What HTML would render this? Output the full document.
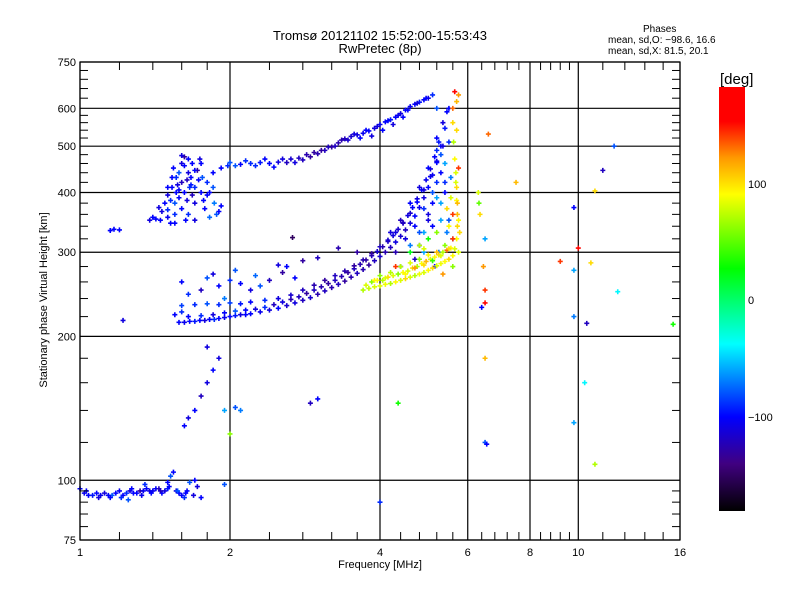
<!DOCTYPE html>
<html><head><meta charset="utf-8"><style>
html,body{margin:0;padding:0;background:#fff}
svg{display:block;font-family:"Liberation Sans",sans-serif}
</style></head><body>
<svg id="chart" width="800" height="600" viewBox="0 0 800 600" xmlns="http://www.w3.org/2000/svg">
<defs>
<linearGradient id="cbar" x1="0" y1="1" x2="0" y2="0">
<stop offset="0" stop-color="#000000"/>
<stop offset="0.111" stop-color="#400080"/>
<stop offset="0.222" stop-color="#0000ff"/>
<stop offset="0.394" stop-color="#00ffff"/>
<stop offset="0.572" stop-color="#00ff00"/>
<stop offset="0.747" stop-color="#ffff00"/>
<stop offset="0.833" stop-color="#ff9900"/>
<stop offset="0.919" stop-color="#ff0000"/>
<stop offset="1" stop-color="#ff0000"/>
</linearGradient>
</defs>
<text x="380" y="40" text-anchor="middle" font-size="13">Tromsø 20121102 15:52:00-15:53:43</text>
<text x="380" y="53" text-anchor="middle" font-size="13">RwPretec (8p)</text>
<g font-size="10">
<text x="643" y="32">Phases</text>
<text x="608" y="43">mean, sd,O: −98.6, 16.6</text>
<text x="608" y="54">mean, sd,X:  81.5, 20.1</text>
</g>
<g id="grid"></g>
<g id="points"></g>
<rect x="80" y="62" width="600" height="478" fill="none" stroke="#000" stroke-width="1.2"/>
<g id="axes" font-size="11"></g>
<text x="380" y="568" text-anchor="middle" font-size="11">Frequency [MHz]</text>
<text transform="translate(47,300) rotate(-90)" text-anchor="middle" font-size="11">Stationary phase Virtual Height [km]</text>
<rect x="719" y="87" width="26" height="424" fill="url(#cbar)"/>
<text x="720" y="84" font-size="15">[deg]</text>
<g font-size="11">
<text x="748" y="188">100</text>
<text x="748" y="304">0</text>
<text x="748" y="421">−100</text>
</g>
</svg>
<script>
const xTicks=[1,2,4,6,8,10,16];
const yTicks=[75,100,200,300,400,500,600,750];
const xMinor=[1.2,1.4,1.6,1.8,2.4,2.8,3.2,3.6,4.4,4.8,5.2,5.6,6.4,6.8,7.2,7.6,8.4,8.8,9.2,9.6,11.2,12.4,13.6,14.8];
const yMinor=[80,85,90,95,120,140,160,180,220,240,260,280,320,340,360,380,420,440,460,480,520,540,560,580,630,660,690,720];

const eF=[1.0,1.02,1.04,1.06,1.08,1.1,1.12,1.14,1.16,1.18,1.2,1.22,1.24,1.26,1.28,1.3,1.32,1.34,1.36,1.38,1.4,1.42,1.44,1.46,1.48,1.5,1.52,1.54,1.56,1.58,1.6,1.62,1.64,1.66,1.7,1.72];
const eH=[96,94,93,93,94,93,94,93,93,94,95,93,94,95,94,94,95,95,96,95,95,96,96,94,95,96,102,104,95,94,93,92,95,99,100,97];
const eP=[-100,-105,-100,-95,-100,-105,-110,-100,-80,-100,-105,-100,-90,-110,-100,-100,-130,-105,-100,-110,-105,-100,-120,-100,-110,-95,-80,-100,-110,-100,-100,-90,-100,-80,-100,-110];
const e2F=[1.03,1.09,1.15,1.21,1.27,1.33,1.39,1.45,1.51,1.57,1.63,1.69,1.75,1.35,1.5,1.25];
const e2H=[95,92,92,92,96,93,94,95,97,95,94,93,92,98,99,91];
const e2P=[-100,-110,-100,-90,-100,-105,-100,-120,-100,-80,-100,-110,-100,-90,-100,-80];

const lowF=[1.58,1.62,1.66,1.7,1.74,1.78,1.82,1.86,1.9,1.95,2.0,2.05,2.1,2.15,2.2,2.3,2.4,2.5,2.6,2.7,2.8,2.9,3.0,3.1,3.2,3.3,3.4,3.5,3.6,3.7,3.8,3.9,4.0,4.1,4.2,4.3,4.4,4.5,4.6,4.7,4.8,4.9,5.0,5.1,5.2,5.3,5.4,5.5];
const lowH=[214,214,215,215,216,216,217,217,218,219,220,221,222,222,223,225,227,229,232,235,238,241,245,249,253,257,261,266,271,276,282,288,294,300,307,315,324,334,345,357,372,390,410,435,465,500,545,600];
const lowP=[-100,-105,-100,-95,-100,-110,-100,-90,-100,-105,-100,-95,-110,-100,-100,-105,-110,-100,-115,-110,-120,-115,-125,-120,-125,-120,-130,-125,-120,-125,-130,-120,-115,-125,-120,-110,-115,-120,-110,-100,-105,-110,-100,-105,-110,-100,-95,-100];
const low2F=[1.65,1.75,1.85,1.95,2.05,2.15,2.25,2.35,2.45,2.55,2.65,2.75,2.85,2.95,3.05,3.15,3.25,3.35,3.45,3.55,3.65,3.75,3.85,3.95,4.05,4.15,4.25,4.35,4.45,4.55,4.65,4.75,4.85,4.95,5.05,5.15,5.25];
const low2H=[220,221,222,224,226,227,228,230,233,236,239,242,246,250,254,258,262,267,272,277,283,289,295,301,308,316,325,335,346,358,372,388,405,425,448,475,510];
const low2P=[-100,-90,-110,-100,-80,-100,-110,-90,-120,-110,-125,-120,-130,-120,-125,-130,-120,-125,-130,-120,-125,-130,-120,-115,-125,-120,-110,-115,-120,-110,-100,-110,-100,-105,-110,-100,-95];

const bandF=[1.6,1.7,1.8,1.9,2.0,2.1,2.2,2.35,2.5,2.65,2.8,2.95,3.1,3.25,3.4,3.55,3.7,3.85,4.0,4.15,4.3,4.45,4.6,4.75,4.9,5.05,5.2,5.35];
const bandH=[232,233,234,233,235,234,236,238,240,244,250,256,262,268,274,281,289,298,308,318,330,345,362,382,405,432,462,500];
const bandP=[-85,-90,-80,-90,-85,-95,-100,-90,-110,-115,-120,-125,-130,-120,-125,-130,-125,-130,-120,-115,-110,-120,-115,-100,-110,-105,-100,-110];

const scatF=[1.6,1.65,1.75,1.8,1.85,1.9,1.95,2.0,2.05,2.1,2.2,2.25,2.4,2.5,2.55,2.7,1.55,1.6,2.3,2.8,3.0,3.3,3.6];
const scatH=[260,245,250,265,270,255,240,262,275,258,250,268,262,282,272,265,222,225,255,288,292,306,300];
const scatP=[-100,-90,-120,-80,-110,-100,-70,-90,-80,-100,-110,-75,-120,-110,-130,-100,-100,-90,-80,-130,-120,-125,-130];

const upF=[1.38,1.42,1.45,1.5,1.52,1.55,1.48,1.5,1.53,1.55,1.58,1.6,1.62,1.65,1.67,1.7,1.72,1.75,1.6,1.65,1.58,1.53,1.7,1.75,1.8,1.85,1.78,1.82,1.88,1.9,1.6,1.65,1.7,1.55,1.63,1.68,1.73,1.5,1.57,1.62,1.67,1.77,1.85,1.92,1.98,1.56,1.64];
const upH=[350,352,350,355,345,360,380,395,410,380,390,420,400,440,430,410,445,460,460,470,440,430,380,400,420,440,370,355,360,365,370,360,350,345,350,395,425,368,415,455,415,385,410,450,455,400,385];
const upP=[-110,-100,-100,-105,-100,-90,-100,-110,-100,-80,-100,-120,-100,-110,-100,-90,-130,-100,-110,-100,-80,-100,-110,-100,-90,-100,-100,-75,-80,-100,-100,-90,-110,-100,-100,-120,-100,-90,-110,-100,-95,-100,-80,-100,-90,-100,-110];
const up2F=[1.4,1.46,1.52,1.58,1.64,1.7,1.76,1.82,1.44,1.5,1.56,1.62,1.68,1.74,1.8,1.86,1.92,1.54,1.6,1.66];
const up2H=[355,365,385,405,425,445,430,400,372,410,430,475,460,470,395,380,375,450,478,410];
const up2P=[-100,-110,-90,-100,-120,-100,-80,-100,-110,-100,-90,-130,-100,-110,-100,-70,-100,-100,-110,-90];

const hopF=[2.0,2.1,2.2,2.3,2.4,2.5,2.6,2.7,2.8,2.9,3.0,3.1,3.2,3.3,3.4,3.5,3.6,3.7,3.8,3.9,4.0,4.1,4.2,4.3,4.4,4.5,4.6,4.7,4.8,4.9,5.0,2.05,2.25,2.45,2.65,2.85,3.05,3.25,3.45,3.65,3.85,4.05,4.25,4.45];
const hopH=[462,458,460,462,460,463,462,462,468,475,482,490,498,508,518,524,528,532,538,545,555,562,568,575,585,595,605,612,618,625,630,455,455,452,470,480,490,500,515,520,525,540,555,575];
const hopP=[-80,-100,-90,-95,-100,-110,-120,-110,-120,-130,-125,-120,-130,-125,-120,-115,-110,-105,-100,-110,-105,-100,-95,-100,-110,-100,-105,-100,-95,-100,-110,-80,-90,-100,-115,-125,-130,-120,-115,-100,-110,-100,-110,-100];
const hop2F=[2.15,2.35,2.55,2.75,2.95,3.15,3.35,3.55,3.75,3.95,4.15,4.35,4.55,4.75,4.95,5.1,5.2];
const hop2H=[466,470,470,472,485,498,515,530,540,550,565,580,595,615,630,640,600];
const hop2P=[-90,-100,-110,-120,-130,-120,-125,-110,-100,-110,-100,-105,-100,-110,-100,-90,-80];

const cuspF=[5.2,5.3,5.35,5.4,5.45,5.5,5.55,5.4,5.3,5.5,5.6,5.45,5.0,5.1,5.2,4.9,4.8,5.25,5.15,4.7];
const cuspH=[520,480,560,460,590,510,430,400,380,350,320,330,350,380,420,330,310,300,280,290];
const cuspP=[-100,-80,-110,-60,-100,-90,-70,-100,-60,-80,-100,-70,-110,-100,-90,-60,-110,-70,-100,-120];
const cusp2F=[4.2,4.4,4.6,4.8,5.0,5.2,4.3,4.5,4.7,4.9,5.1,5.3,4.6,4.8,5.0,5.2,5.4,4.4,4.9,5.1];
const cusp2H=[330,350,380,410,450,490,300,320,340,370,400,440,310,330,360,390,420,280,300,340];
const cusp2P=[-110,-120,-100,-110,-100,-90,-125,-110,-100,-90,-80,-100,-70,-80,-110,-60,-90,-120,-60,-100];

const xF=[3.7,3.8,3.9,4.0,4.1,4.2,4.3,4.4,4.5,4.6,4.7,4.8,4.9,5.0,5.1,5.2,5.3,5.4,5.5,5.6,5.65,5.7,5.72,5.72,5.7,5.7,5.68,5.65,5.62,5.6,5.7,5.75];
const xH=[250,252,254,255,257,258,260,262,264,266,268,270,272,275,278,281,284,287,290,295,305,320,340,360,385,410,440,470,510,560,620,640];
const xP=[70,75,80,80,85,70,90,80,100,80,70,85,80,90,100,80,85,90,100,90,80,90,100,110,90,100,80,90,70,100,110,120];
const x2F=[3.75,3.85,3.95,4.05,4.15,4.25,4.35,4.45,4.55,4.65,4.75,4.85,4.95,5.05,5.15,5.25,5.35,5.45,5.55,5.75,5.78,5.75,5.72,5.68,5.75,5.6,5.65,5.7];
const x2H=[256,260,262,262,266,268,270,272,274,278,280,284,287,290,293,296,300,303,306,300,330,350,380,420,450,600,650,540];
const x2P=[80,60,90,70,100,80,60,90,80,100,70,90,110,80,90,100,70,130,90,80,100,90,110,80,140,130,150,100];

const xsF=[4.0,4.2,4.3,4.5,4.6,4.7,4.8,4.9,5.0,5.1,5.2,5.3,5.4,5.5,5.6,4.4,4.6,4.9,5.2,5.5,5.45,5.55,5.6,5.3,5.0,4.8,5.35,5.6,4.1,3.9];
const xsH=[268,272,280,270,285,278,290,282,296,288,300,295,310,305,320,280,300,305,330,340,370,390,360,350,320,310,270,280,265,262];
const xsP=[60,70,140,90,80,120,60,100,90,40,110,80,60,100,140,70,20,80,60,90,100,80,140,-60,30,70,120,60,80,90];

const strayF=[1.15,1.17,1.2,1.22,1.62,1.65,1.7,1.75,1.8,1.85,1.9,1.95,2.05,2.1,2.0,2.6,2.67,2.9,3.0,4.0,4.35,6.3,6.32,6.35,6.45,6.5,6.5,6.5,6.5,6.5,6.55,6.6,7.5,9.2,9.8,9.8,9.8,9.8,10,10.3,10.4,10.6,10.8,10.8,11.2,12,11.8,15.5,1.8,1.95,6.4];
const strayH=[333,335,334,216,130,135,140,150,160,170,180,140,142,140,125,280,322,145,148,90,145,400,380,360,280,250,235,180,120,320,119,530,420,287,372,275,220,132,306,160,213,285,403,108,445,248,500,212,190,98,230];
const strayP=[-100,-100,-100,-110,-100,-110,-100,-120,-110,-100,-110,-60,-80,-70,60,-100,-150,-120,-100,-90,30,80,50,100,120,140,150,110,-80,-60,-100,130,110,140,-100,-60,-70,-60,150,-40,-120,100,100,70,-120,-40,-80,30,-110,-80,-100];

const NS="http://www.w3.org/2000/svg";
const X0=80,X1=680,Y0=540,Y1=62;
function xs(f){return X0+(X1-X0)*Math.log(f)/Math.log(16);}
function ys(h){return Y0-(Y0-Y1)*Math.log10(h/75);}
const stops=[[-180,[0,0,0]],[-140,[64,0,128]],[-100,[0,0,255]],[-38,[0,255,255]],[26,[0,255,0]],[89,[255,255,0]],[120,[255,153,0]],[151,[255,0,0]],[180,[255,0,0]]];
function color(p){
  p=Math.max(-180,Math.min(180,p));
  for(let i=0;i<stops.length-1;i++){
    const a=stops[i],b=stops[i+1];
    if(p<=b[0]){const t=(p-a[0])/(b[0]-a[0]);
      return 'rgb('+a[1].map((v,k)=>Math.round(v+(b[1][k]-v)*t)).join(',')+')';}
  }
  return 'rgb(255,0,0)';
}
function mk(tag,attrs){const e=document.createElementNS(NS,tag);for(const k in attrs)e.setAttribute(k,attrs[k]);return e;}
const grid=document.getElementById('grid');
const axes=document.getElementById('axes');
xTicks.forEach(f=>{
  const x=xs(f);
  const l=mk('line',{x1:x,x2:x,y1:Y1,y2:Y0,stroke:'#000','stroke-width':1.2});
  
  
  grid.appendChild(l);
  const t=mk('text',{x:x,y:556,'text-anchor':'middle'});t.textContent=f;
  
  
  axes.appendChild(t);
});
yTicks.forEach(h=>{
  const y=ys(h);
  const l=mk('line',{x1:X0,x2:X1,y1:y,y2:y,stroke:'#000','stroke-width':1.2});
  
  
  grid.appendChild(l);
  const t=mk('text',{x:76,y:y+4,'text-anchor':'end'});t.textContent=h;
  
  
  axes.appendChild(t);
});
xMinor.forEach(f=>{
  const x=xs(f);
  [[Y0,Y0-8],[Y1,Y1+8]].forEach(s=>{
    const l=mk('line',{x1:x,x2:x,y1:s[0],y2:s[1],stroke:'#000','stroke-width':1});
    
    
    axes.appendChild(l);
  });
});
yMinor.forEach(h=>{
  const y=ys(h);
  [[X0,X0+8],[X1,X1-8]].forEach(s=>{
    const l=mk('line',{x1:s[0],x2:s[1],y1:y,y2:y,stroke:'#000','stroke-width':1});
    
    
    axes.appendChild(l);
  });
});
const pts=document.getElementById('points');
function drawGroup(F,H,P,name){
  for(let i=0;i<F.length;i++){
    const x=xs(F[i]),y=ys(H[i]);
    const p=mk('path',{d:'M'+(x-2.5)+' '+y+'h5M'+x+' '+(y-2.5)+'v5',stroke:color(P[i]),'stroke-width':1.6,fill:'none'});
    
    
    pts.appendChild(p);
  }
}
drawGroup(eF,eH,eP,'e-layer-point');
drawGroup(e2F,e2H,e2P,'e-layer-point');
drawGroup(lowF,lowH,lowP,'o-trace-point');
drawGroup(low2F,low2H,low2P,'o-trace-point');
drawGroup(bandF,bandH,bandP,'o-trace-band-point');
drawGroup(scatF,scatH,scatP,'o-scatter-point');
drawGroup(upF,upH,upP,'upper-blob-point');
drawGroup(up2F,up2H,up2P,'upper-blob-point');
drawGroup(hopF,hopH,hopP,'second-hop-point');
drawGroup(hop2F,hop2H,hop2P,'second-hop-point');
drawGroup(cuspF,cuspH,cuspP,'o-cusp-point');
drawGroup(cusp2F,cusp2H,cusp2P,'o-cusp-point');
drawGroup(xF,xH,xP,'x-trace-point');
drawGroup(x2F,x2H,x2P,'x-trace-point');
drawGroup(xsF,xsH,xsP,'x-scatter-point');
drawGroup(strayF,strayH,strayP,'stray-point');
</script>
</body></html>
